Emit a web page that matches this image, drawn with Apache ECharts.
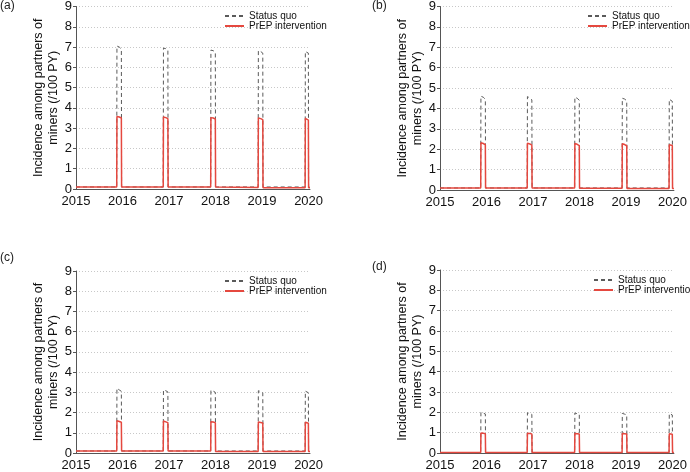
<!DOCTYPE html>
<html>
<head>
<meta charset="utf-8">
<script src="https://cdn.jsdelivr.net/npm/echarts@6/dist/echarts.min.js"></script>
<style>
html,body{margin:0;padding:0;background:#fff;}
#chart{width:690px;height:472px;}
</style>
</head>
<body>
<div id="chart"></div>
<script>
// Shared time points (years)
var T = [2015.00,
  2015.875, 2015.88, 2015.93, 2015.975, 2015.98,
  2016.875, 2016.88, 2016.93, 2016.975, 2016.98,
  2017.895, 2017.90, 2017.95, 2017.995, 2018.00,
  2018.915, 2018.92, 2018.97, 2019.015, 2019.02,
  2019.925, 2019.93, 2019.965, 2019.995, 2020.00,
  2020.03];

var xTicks = [2015, 2016, 2017, 2018, 2019, 2020];
var yTicks = [0, 1, 2, 3, 4, 5, 6, 7, 8, 9];
var panelLabels = ['(a)', '(b)', '(c)', '(d)'];
var seriesNames = ['Status quo', 'PrEP intervention'];
var yName = 'Incidence among partners of\nminers (/100 PY)';

// Panel (a)
var aStatusQuo = [0.1, 0.1, 7.05, 7.0, 6.9, 0.1, 0.1, 6.95, 6.92, 6.85, 0.1, 0.1, 6.85, 6.82, 6.75, 0.1, 0.1, 6.82, 6.78, 6.7, 0.1, 0.1, 6.78, 6.75, 6.7, 0.1, 0.1];
var aPrEP = [0.1, 0.1, 3.58, 3.55, 3.5, 0.1, 0.1, 3.55, 3.52, 3.47, 0.1, 0.1, 3.52, 3.5, 3.45, 0.1, 0.08, 3.5, 3.47, 3.42, 0.06, 0.06, 3.48, 3.45, 3.4, 0.06, 0.06];
// Panel (b)
var bStatusQuo = [0.1, 0.1, 4.6, 4.55, 4.45, 0.1, 0.1, 4.58, 4.52, 4.42, 0.1, 0.1, 4.55, 4.5, 4.4, 0.1, 0.1, 4.5, 4.46, 4.38, 0.1, 0.1, 4.45, 4.42, 4.35, 0.1, 0.1];
var bPrEP = [0.1, 0.1, 2.32, 2.28, 2.22, 0.1, 0.1, 2.3, 2.26, 2.2, 0.1, 0.1, 2.28, 2.24, 2.18, 0.08, 0.08, 2.27, 2.23, 2.17, 0.07, 0.07, 2.22, 2.2, 2.18, 0.07, 0.07];
// Panel (c)
var cStatusQuo = [0.1, 0.1, 3.2, 3.12, 3.05, 0.1, 0.1, 3.12, 3.08, 3.02, 0.1, 0.1, 3.1, 3.06, 3.0, 0.1, 0.1, 3.08, 3.04, 2.98, 0.1, 0.1, 3.06, 3.02, 2.98, 0.1, 0.1];
var cPrEP = [0.1, 0.1, 1.6, 1.56, 1.52, 0.1, 0.1, 1.58, 1.54, 1.5, 0.1, 0.1, 1.55, 1.53, 1.5, 0.08, 0.08, 1.53, 1.51, 1.48, 0.07, 0.07, 1.52, 1.5, 1.47, 0.07, 0.07];
// Panel (d)
var dStatusQuo = [0.02, 0.02, 2.0, 1.96, 1.92, 0.02, 0.02, 1.98, 1.94, 1.9, 0.02, 0.02, 1.97, 1.93, 1.9, 0.02, 0.02, 1.95, 1.91, 1.88, 0.02, 0.02, 1.94, 1.9, 1.87, 0.02, 0.02];
var dPrEP = [0.02, 0.02, 0.98, 0.97, 0.95, 0.02, 0.02, 0.97, 0.96, 0.94, 0.02, 0.02, 0.96, 0.95, 0.93, 0.02, 0.02, 0.96, 0.95, 0.93, 0.02, 0.02, 0.95, 0.94, 0.92, 0.02, 0.02];

var panels = [
  {sq: aStatusQuo, prep: aPrEP},
  {sq: bStatusQuo, prep: bPrEP},
  {sq: cStatusQuo, prep: cPrEP},
  {sq: dStatusQuo, prep: dPrEP}
];

// layout
var grids = [
  {left: 76, width: 234, top: 5, height: 184},
  {left: 440, width: 234, top: 5, height: 185},
  {left: 76, width: 234, top: 271, height: 185},
  {left: 440, width: 234, top: 270, height: 187}
];
var legendPos = [
  {left: 224, top: 11},
  {left: 587, top: 11},
  {left: 224, top: 276},
  {left: 593, top: 275}
];
var labelPos = [
  {left: 0, top: 0},
  {left: 372, top: 0},
  {left: 0, top: 252},
  {left: 372, top: 261}
];

var FONT = '"Liberation Sans", Arial, Helvetica, sans-serif';
var AXC = '#555';

function zip(t, v) { return t.map(function (x, i) { return [x, v[i]]; }); }

var option = {
  animation: false,
  backgroundColor: '#fff',
  textStyle: {fontFamily: FONT},
  title: panelLabels.map(function (s, i) {
    return {text: s, left: labelPos[i].left, top: labelPos[i].top, padding: 0,
      textStyle: {fontSize: 12, fontWeight: 'normal', color: '#222', fontFamily: FONT}};
  }),
  legend: legendPos.map(function (p, i) {
    return {
      orient: 'vertical', left: p.left, top: p.top, padding: 0, itemGap: 0,
      itemWidth: 19, itemHeight: 8, data: seriesNames,
      selectedMode: false,
      itemStyle: {opacity: 0, borderWidth: 0},
      textStyle: {fontSize: 10, color: '#111', fontFamily: FONT}
    };
  }),
  grid: grids,
  xAxis: grids.map(function (g, i) {
    return {
      type: 'value', gridIndex: i, min: xTicks[0], max: 2020.03, interval: 1,
      axisLine: {show: true, lineStyle: {color: AXC, width: 1}},
      axisTick: {show: false},
      splitLine: {show: false},
      axisLabel: {
        fontSize: 13, color: '#111', margin: 6, fontFamily: FONT,
        showMaxLabel: false,
        formatter: function (v) { return xTicks.indexOf(Math.round(v * 1000) / 1000) >= 0 ? String(v) : ''; }
      }
    };
  }),
  yAxis: grids.map(function (g, i) {
    return {
      type: 'value', gridIndex: i, min: yTicks[0], max: yTicks[yTicks.length - 1], interval: 1,
      name: yName, nameLocation: 'middle', nameGap: 10,
      nameTextStyle: {fontSize: 12.5, color: '#111', lineHeight: 15, fontFamily: FONT},
      axisLine: {show: true, lineStyle: {color: AXC, width: 1}},
      axisTick: {show: true, inside: false, length: 3, lineStyle: {color: AXC}},
      splitLine: {show: true, lineStyle: {color: '#c8c8c8', type: [1, 2], width: 1}},
      axisLabel: {fontSize: 13, color: '#111', margin: 4, fontFamily: FONT}
    };
  }),
  series: []
};

panels.forEach(function (p, i) {
  option.series.push({
    name: seriesNames[0], type: 'line', xAxisIndex: i, yAxisIndex: i,
    data: zip(T, p.sq), showSymbol: false, symbol: 'none',
    lineStyle: {color: '#5a5a5a', width: 1, type: [4, 3]},
    itemStyle: {color: '#5a5a5a'}
  });
  option.series.push({
    name: seriesNames[1], type: 'line', xAxisIndex: i, yAxisIndex: i,
    data: zip(T, p.prep), showSymbol: false, symbol: 'none',
    lineStyle: {color: '#e5483f', width: 1.5},
    itemStyle: {color: '#e5483f'}
  });
});

var chart = echarts.init(document.getElementById('chart'), null, {renderer: 'canvas'});
chart.setOption(option);
</script>
</body>
</html>
